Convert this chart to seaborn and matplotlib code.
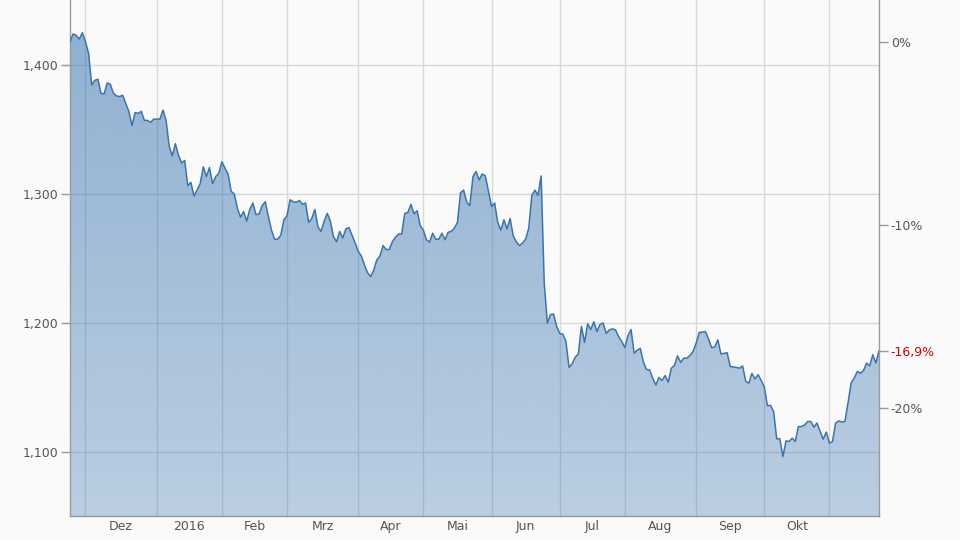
import numpy as np
import pandas as pd
import matplotlib.pyplot as plt
import matplotlib.colors as mcolors
import seaborn as sns

# daily closes, one value per trading day
prices = [
    1418, 1424, 1423, 1420, 1425, 1418, 1409, 1384.5, 1388, 1389,
    1378, 1377.5, 1386, 1385, 1378, 1376, 1375.5, 1376.5, 1370, 1364,
    1353, 1363, 1362.5, 1364, 1357, 1357, 1355.5, 1358, 1358, 1358,
    1365, 1357, 1337, 1329.5, 1339, 1330, 1324, 1326, 1306.5, 1309,
    1298.5, 1303, 1308, 1321, 1313.5, 1320.5, 1308, 1313.5, 1316, 1325,
    1320, 1315.5, 1302, 1300, 1289,
    1282, 1286.4, 1279, 1288, 1293, 1284, 1284.5, 1291, 1294, 1282.5,
    1272, 1265, 1265, 1268, 1280, 1283, 1295.5, 1294, 1293.5, 1295,
    1292, 1293, 1278, 1281, 1288, 1274.5, 1271, 1279, 1285, 1279,
    1267, 1263, 1271, 1266, 1273, 1274, 1268, 1262, 1255.5, 1252,
    1245, 1239, 1236, 1241, 1249, 1252, 1260, 1257, 1257, 1263,
    1266.5, 1269,
    1269, 1285, 1285.6, 1292, 1284.6, 1287, 1275.5, 1272, 1264.5, 1262.7,
    1269.6, 1265, 1265, 1269.6, 1264.5, 1270.4, 1271, 1273.5, 1278, 1301,
    1303, 1293.6, 1291, 1313.5, 1317.4, 1311, 1315.6, 1314, 1302, 1290.4,
    1293, 1278, 1272, 1280, 1273, 1281, 1267.5, 1263, 1260, 1262,
    1265, 1273.5, 1299, 1303, 1299, 1314, 1231, 1200, 1206.5, 1207,
    1197.4, 1192, 1191.4, 1185.7, 1165.6, 1168.4, 1173.6, 1176, 1197.4, 1185,
    1199.4, 1195, 1201, 1193.4, 1199, 1200, 1192, 1194.7, 1195.5, 1194.7,
    1189.5, 1185.7, 1181, 1190, 1195, 1176.7, 1179, 1180.4, 1169.6, 1164,
    1163.7, 1157.3, 1152, 1157.8, 1155.5, 1159.3, 1154.2, 1165, 1167, 1174.6,
    1169.5, 1172.8, 1172.8, 1174.8, 1178, 1184.4, 1192.6, 1193, 1193.4,
    1187.6, 1181, 1181.4, 1187, 1176.1, 1176.5, 1177, 1166.3, 1166, 1165.6,
    1165, 1166.8, 1155, 1153.4, 1161, 1156.7, 1160, 1155.5, 1150.4, 1136,
    1136.2, 1131.5, 1110.3, 1110.3, 1096.6, 1108.7, 1108.2, 1110.8, 1108.2, 1119.8,
    1119.8, 1121, 1123.7, 1123.7, 1119.4, 1122.5, 1116, 1110, 1115.5, 1107,
    1108.2, 1122.5, 1124.2, 1123.3, 1123.7, 1138, 1153.4, 1157.3, 1162.5, 1161.2,
    1163.2, 1169, 1166.8, 1175.4, 1169, 1178.5,
]
start_date = "2015-11-24"
month_names = ["Jan", "Feb", "Mrz", "Apr", "Mai", "Jun", "Jul", "Aug", "Sep", "Okt", "Nov", "Dez"]
price_ticks = [1100, 1200, 1300, 1400]
pct_ticks = [0, -10, -20]

line_color = "#3a74b0"
grey_text = "#555555"
grey_line = "#9a9a9a"

sns.set_theme(style="whitegrid", rc={
    "figure.facecolor": "#fafafa",
    "axes.facecolor": "#fafafa",
    "grid.color": "#d8d8d8",
    "grid.linewidth": 1.0,
})
plt.rcParams["font.family"] = ["DejaVu Sans"]

n = len(prices)
df = pd.DataFrame({
    "idx": np.arange(n),
    "date": pd.bdate_range(start_date, periods=n),
    "price": prices,
})
firsts = df.groupby(df["date"].dt.to_period("M"))["idx"].min()
month_starts = list(firsts.values[1:])
periods = list(firsts.index[1:])
mids = [(a + b) / 2 for a, b in zip(month_starts[:-1], month_starts[1:])]
mid_labels = [str(p.year) if p.month == 1 else month_names[p.month - 1] for p in periods[:-1]]

fig = plt.figure(figsize=(9.6, 5.4), dpi=100)
ax = fig.add_axes([70 / 960, 24 / 540, 809 / 960, 516 / 540])
ylo, yhi = 1050.5, 1450.3

# gradient area under the line
rgb = mcolors.to_rgb(line_color)
grad = np.zeros((256, 1, 4))
grad[..., :3] = rgb
grad[:, 0, 3] = np.linspace(0.55, 0.33, 256)
im = ax.imshow(grad, aspect="auto", origin="upper",
               extent=[0, n - 1, ylo, max(prices)], zorder=1)
poly = ax.fill_between(df["idx"], df["price"], ylo, facecolor="none", edgecolor="none")
im.set_clip_path(poly.get_paths()[0], transform=ax.transData)

sns.lineplot(data=df, x="idx", y="price", color=line_color, linewidth=1.1, ax=ax, zorder=3)

ax.set_xlim(0, n - 1)
ax.set_ylim(ylo, yhi)
ax.set_axisbelow(True)
ax.set_xlabel("")
ax.set_ylabel("")

ax.set_xticks(month_starts)
ax.set_xticklabels([])
ax.set_xticks(mids, mid_labels, minor=True)
ax.tick_params(axis="x", which="both", length=0)
ax.tick_params(axis="x", which="minor", labelsize=9, colors=grey_text, pad=3)
ax.grid(True, which="major")
ax.grid(False, which="minor")

ax.set_yticks(price_ticks)
ax.set_yticklabels([f"{v:,}" for v in price_ticks])
ax.tick_params(axis="y", length=6.5, width=1, color=grey_line, labelsize=9,
               labelcolor=grey_text, pad=2, direction="out", left=True)

for side in ["top", "right"]:
    ax.spines[side].set_visible(False)
for side in ["left", "bottom"]:
    ax.spines[side].set_color(grey_line)
    ax.spines[side].set_linewidth(1)

# right axis: change relative to first value
base = prices[0]
change = (prices[-1] / base - 1) * 100
ax2 = ax.twinx()
ax2.set_ylim(ylo, yhi)
ax2.grid(False)
r_ticks = [base * (1 + p / 100) for p in pct_ticks] + [prices[-1]]
r_labels = [f"{p}%" for p in pct_ticks] + [f"{change:.1f}%".replace(".", ",")]
ax2.set_yticks(r_ticks)
ax2.set_yticklabels(r_labels)
ax2.tick_params(axis="y", length=6.5, width=1, color=grey_line, labelsize=9,
                labelcolor=grey_text, pad=2, direction="out", right=True)
ax2.get_yticklabels()[-1].set_color("#cc0000")
for side in ["top", "left", "bottom"]:
    ax2.spines[side].set_visible(False)
ax2.spines["right"].set_color(grey_line)
ax2.spines["right"].set_linewidth(1)

fig.savefig("out.png", dpi=100, facecolor=fig.get_facecolor())
